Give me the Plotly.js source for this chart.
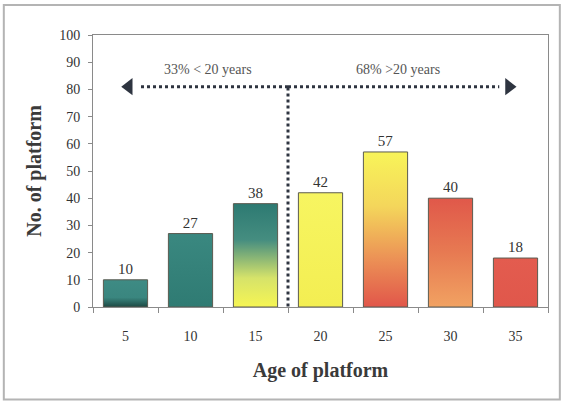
<!DOCTYPE html>
<html>
<head>
<meta charset="utf-8">
<script src="https://cdn.plot.ly/plotly-3.0.1.min.js"></script>
<style>
  html, body { margin: 0; padding: 0; background: #fff; }
  #chart { width: 564px; height: 403px; }
</style>
</head>
<body>
<div id="chart"></div>
<script>
// Platform counts by age (years)
const ageCategories = ['5', '10', '15', '20', '25', '30', '35'];
const platformCounts = [10, 27, 38, 42, 57, 40, 18];

// Split labels shown above the dotted arrows
const splitLabels = ['33% < 20 years', '68% >20 years'];

// Vertical gradients for each bar (top -> bottom stops)
const barGradients = [
  [[0, '#3e8b84'], [0.65, '#3a867f'], [1, '#1c4843']],
  [[0, '#3a8880'], [1, '#2f7b73']],
  [[0, '#2d7a72'], [0.35, '#458d80'], [0.72, '#d6e36a'], [1, '#f6f553']],
  [[0, '#f7f561'], [1, '#f3ee52']],
  [[0, '#f8f459'], [0.35, '#f4d65b'], [0.68, '#ec9356'], [1, '#e1564a']],
  [[0, '#e0584a'], [0.5, '#e77a52'], [1, '#f1a262']],
  [[0, '#e35c4f'], [1, '#e0574b']]
];

const serif = "'Liberation Serif', 'Times New Roman', serif";
const splitX = 2.5;     // boundary between 15 and 20
const arrowY = 81;

const bars = {
  type: 'bar',
  x: ageCategories,
  y: platformCounts,
  width: 0.68,
  marker: { color: '#3a8880', line: { color: '#5b5b50', width: 1 } },
  text: platformCounts.map(String),
  textposition: 'outside',
  textfont: { family: serif, size: 15, color: '#333' },
  cliponaxis: false,
  hoverinfo: 'skip'
};

// Arrow heads on an overlaid linear axis spanning the same category slots
const heads = {
  type: 'scatter',
  mode: 'markers',
  xaxis: 'x2',
  x: [0.05, 5.9],
  y: [arrowY, arrowY],
  marker: { symbol: ['triangle-left', 'triangle-right'], size: 15, color: '#2e3440' },
  hoverinfo: 'skip',
  cliponaxis: false
};

const layout = {
  width: 564,
  height: 403,
  margin: { l: 93, r: 16, t: 35, b: 96 },
  paper_bgcolor: '#fff',
  plot_bgcolor: '#fff',
  showlegend: false,
  xaxis: {
    type: 'category',
    showline: true, linecolor: '#8a8a8a', linewidth: 1, mirror: true,
    ticks: 'outside', tickson: 'boundaries', ticklen: 5, tickcolor: '#8a8a8a',
    ticklabelstandoff: 16,
    tickfont: { family: serif, size: 14, color: '#333' },
    showgrid: false,
    title: { text: 'Age of platform', font: { family: serif, size: 20, color: '#3a3a3a', weight: 'bold' }, standoff: 20 }
  },
  xaxis2: {
    overlaying: 'x', range: [-0.5, 6.5], visible: false, fixedrange: true
  },
  yaxis: {
    range: [0, 100], dtick: 10,
    showline: true, linecolor: '#8a8a8a', linewidth: 1, mirror: true,
    ticks: 'outside', ticklen: 4, tickcolor: '#8a8a8a',
    ticklabelstandoff: 5,
    tickfont: { family: serif, size: 14, color: '#333' },
    showgrid: false, zeroline: false,
    title: { text: 'No. of platform', font: { family: serif, size: 20, color: '#3a3a3a', weight: 'bold' }, standoff: 12 }
  },
  shapes: [
    // outer frame
    { type: 'rect', xref: 'paper', yref: 'paper', x0: -0.196, x1: 1.026, y0: -0.34, y1: 1.11,
      line: { color: '#b4b4b4', width: 2 } },
    // vertical divider
    { type: 'line', xref: 'x2', yref: 'y', x0: splitX, x1: splitX, y0: -2, y1: arrowY,
      line: { color: '#2e3440', width: 3, dash: 'dot' } },
    // left dotted arrow shaft
    { type: 'line', xref: 'x2', yref: 'y', x0: splitX, x1: 0.2, y0: arrowY, y1: arrowY,
      line: { color: '#2e3440', width: 3, dash: 'dot' } },
    // right dotted arrow shaft
    { type: 'line', xref: 'x2', yref: 'y', x0: splitX, x1: 5.75, y0: arrowY, y1: arrowY,
      line: { color: '#2e3440', width: 3, dash: 'dot' } }
  ],
  annotations: [
    { xref: 'x2', yref: 'y', x: 1.27, y: 87.5, text: splitLabels[0], showarrow: false,
      font: { family: serif, size: 14, color: '#555' } },
    { xref: 'x2', yref: 'y', x: 4.19, y: 87.5, text: splitLabels[1], showarrow: false,
      font: { family: serif, size: 14, color: '#555' } }
  ]
};

const gd = document.getElementById('chart');
Plotly.newPlot(gd, [bars, heads], layout, { displayModeBar: false, staticPlot: true }).then(function () {
  // Add vertical gradient fills to the bars
  const svgNS = 'http://www.w3.org/2000/svg';
  const svg = gd.querySelector('.main-svg');
  let defs = svg.querySelector('defs');
  if (!defs) { defs = document.createElementNS(svgNS, 'defs'); svg.insertBefore(defs, svg.firstChild); }
  barGradients.forEach(function (stops, i) {
    const g = document.createElementNS(svgNS, 'linearGradient');
    g.setAttribute('id', 'barGrad' + i);
    g.setAttribute('x1', '0'); g.setAttribute('y1', '0');
    g.setAttribute('x2', '0'); g.setAttribute('y2', '1');
    stops.forEach(function (s) {
      const st = document.createElementNS(svgNS, 'stop');
      st.setAttribute('offset', s[0]);
      st.setAttribute('stop-color', s[1]);
      g.appendChild(st);
    });
    defs.appendChild(g);
  });
  const paths = gd.querySelectorAll('.barlayer .trace.bars .point path');
  paths.forEach(function (p, i) {
    if (barGradients[i]) p.style.fill = 'url(#barGrad' + i + ')';
  });
});
</script>
</body>
</html>
